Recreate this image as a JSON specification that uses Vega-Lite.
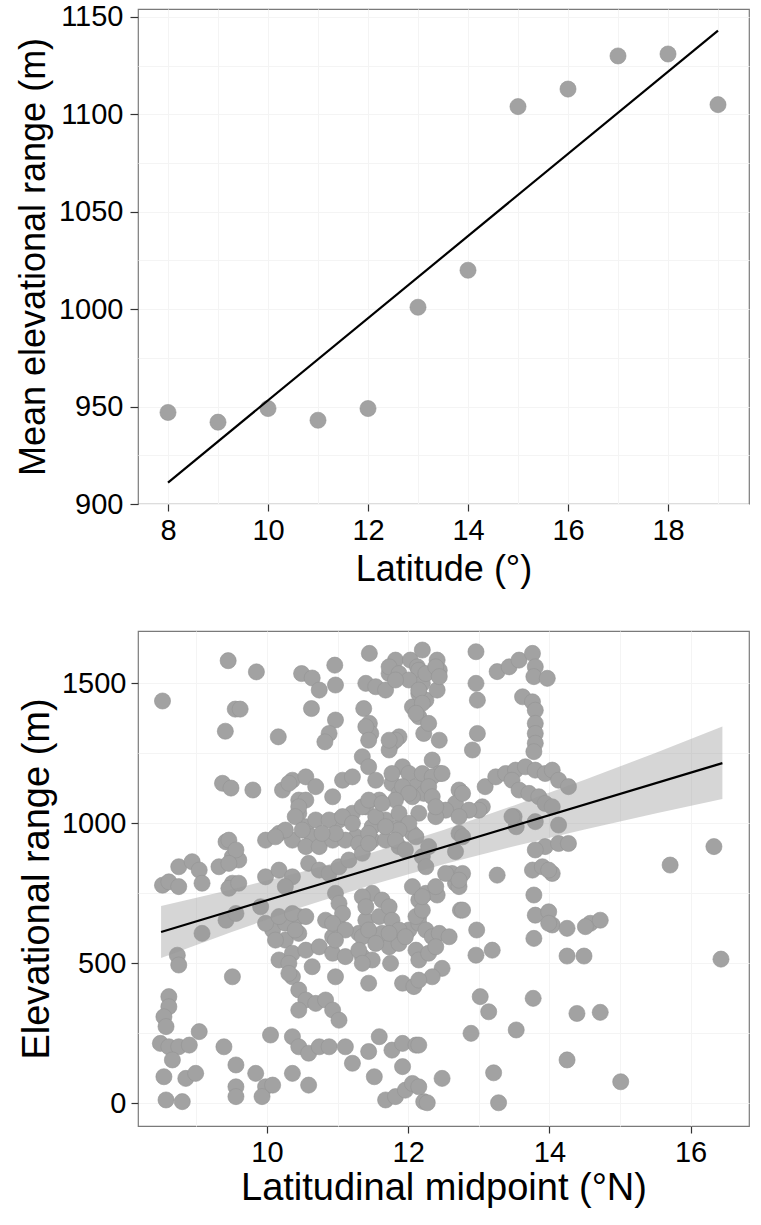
{
 "$schema": "https://vega.github.io/schema/vega-lite/v6.json",
 "padding": {"left": 14, "top": 2, "right": 8, "bottom": 5},
 "background": "white",
 "spacing": 42,
 "config": {
  "font": "Liberation Sans",
  "view": {"stroke": "#7a7a7a", "strokeWidth": 1.2},
  "axis": {"labelColor": "black", "titleColor": "black", "labelFont": "Liberation Sans", "titleFont": "Liberation Sans", "titleFontWeight": "normal", "labelFontSize": 29, "titleFontSize": 36, "tickColor": "#333333", "tickWidth": 1.2, "domain": false, "gridColor": "#f4f4f4", "labelFlush": false, "labelOverlap": false, "format": "d"}
 },
 "datasets": {
  "topPoints": [
   {"lat": 8, "mer": 947}, {"lat": 9, "mer": 942}, {"lat": 10, "mer": 949}, {"lat": 11, "mer": 943},
   {"lat": 12, "mer": 949}, {"lat": 13, "mer": 1001}, {"lat": 14, "mer": 1020}, {"lat": 15, "mer": 1104},
   {"lat": 16, "mer": 1113}, {"lat": 17, "mer": 1130}, {"lat": 18, "mer": 1131}, {"lat": 19, "mer": 1105}
  ],
  "topLine": [{"lat": 8, "mer": 911}, {"lat": 19, "mer": 1143}],
  "bottomBand": [
   {"mid": 8.5, "lo": 518, "hi": 704}, {"mid": 9.5, "lo": 611, "hi": 763}, {"mid": 10.5, "lo": 700, "hi": 826},
   {"mid": 11.5, "lo": 781, "hi": 896}, {"mid": 12.5, "lo": 853, "hi": 975}, {"mid": 13.5, "lo": 917, "hi": 1063},
   {"mid": 14.5, "lo": 977, "hi": 1155}, {"mid": 15.5, "lo": 1034, "hi": 1250}, {"mid": 16.45, "lo": 1086, "hi": 1345}
  ],
  "bottomLine": [{"mid": 8.5, "er": 611}, {"mid": 16.45, "er": 1214}],
  "bottomPoints": [
   {"mid":8.52,"er":1436},{"mid":9.45,"er":1580},{"mid":9.85,"er":1540},{"mid":9.55,"er":1407},{"mid":9.62,"er":1407},
   {"mid":9.41,"er":1328},{"mid":10.16,"er":1308},{"mid":9.37,"er":1142},{"mid":9.49,"er":1125},{"mid":9.80,"er":1118},
   {"mid":10.49,"er":1534},{"mid":10.64,"er":1518},{"mid":10.74,"er":1475},{"mid":10.96,"er":1564},{"mid":10.97,"er":1493},
   {"mid":10.63,"er":1409},{"mid":10.97,"er":1368},{"mid":10.88,"er":1320},{"mid":10.82,"er":1290},{"mid":11.45,"er":1606},
   {"mid":11.40,"er":1499},{"mid":11.54,"er":1487},{"mid":11.73,"er":1534},{"mid":11.82,"er":1582},{"mid":11.68,"er":1475},
   {"mid":12.03,"er":1582},{"mid":12.13,"er":1558},{"mid":11.37,"er":1409},{"mid":11.45,"er":1356},{"mid":11.47,"er":1320},
   {"mid":11.77,"er":1285},{"mid":11.87,"er":1308},{"mid":12.06,"er":1415},{"mid":12.15,"er":1463},{"mid":12.22,"er":1320},
   {"mid":11.35,"er":1237},{"mid":11.44,"er":1201},{"mid":11.54,"er":1153},{"mid":11.92,"er":1201},{"mid":12.01,"er":1177},
   {"mid":12.11,"er":1130},{"mid":12.22,"er":1106},{"mid":10.22,"er":1118},{"mid":10.36,"er":1153},{"mid":10.55,"er":1165},
   {"mid":10.69,"er":1130},{"mid":10.45,"er":1082},{"mid":10.45,"er":1035},{"mid":10.55,"er":987},{"mid":10.64,"er":951},
   {"mid":10.93,"er":1094},{"mid":11.07,"er":1153},{"mid":11.21,"er":1165},{"mid":11.02,"er":1011},{"mid":11.21,"er":1035},
   {"mid":11.40,"er":1058},{"mid":11.59,"er":1082},{"mid":11.26,"er":951},{"mid":11.49,"er":987},{"mid":11.68,"er":1011},
   {"mid":11.87,"er":987},{"mid":12.06,"er":963},{"mid":12.15,"er":1035},{"mid":11.77,"er":1142},{"mid":11.87,"er":1106},
   {"mid":12.06,"er":1094},{"mid":9.98,"er":939},{"mid":10.17,"er":963},{"mid":10.36,"er":939},{"mid":10.55,"er":916},
   {"mid":10.74,"er":916},{"mid":10.93,"er":939},{"mid":11.11,"er":939},{"mid":11.30,"er":927},{"mid":11.49,"er":939},
   {"mid":11.68,"er":939},{"mid":11.87,"er":916},{"mid":9.42,"er":933},{"mid":9.51,"er":880},{"mid":9.32,"er":844},
   {"mid":9.60,"er":868},{"mid":8.75,"er":844},{"mid":8.94,"er":862},{"mid":9.04,"er":832},{"mid":8.52,"er":778},
   {"mid":8.61,"er":790},{"mid":9.08,"er":785},{"mid":9.51,"er":785},{"mid":9.98,"er":808},{"mid":10.17,"er":832},
   {"mid":8.75,"er":773},{"mid":9.46,"er":767},{"mid":9.60,"er":785},{"mid":9.91,"er":701},{"mid":9.42,"er":653},
   {"mid":9.08,"er":606},{"mid":8.73,"er":528},{"mid":8.75,"er":493},{"mid":9.51,"er":451},{"mid":8.61,"er":380},
   {"mid":8.61,"er":344},{"mid":8.54,"er":308},{"mid":8.57,"er":273},{"mid":8.49,"er":213},{"mid":8.61,"er":201},
   {"mid":8.75,"er":201},{"mid":8.90,"er":207},{"mid":9.04,"er":255},{"mid":8.66,"er":154},{"mid":8.54,"er":94},
   {"mid":8.85,"er":88},{"mid":8.99,"er":106},{"mid":8.57,"er":11},{"mid":8.80,"er":5},{"mid":9.39,"er":201},
   {"mid":9.56,"er":136},{"mid":9.56,"er":58},{"mid":9.56,"er":23},{"mid":9.84,"er":106},{"mid":9.98,"er":58},
   {"mid":9.93,"er":23},{"mid":10.08,"er":64},{"mid":10.05,"er":243},{"mid":10.36,"er":237},{"mid":10.45,"er":201},
   {"mid":10.59,"er":178},{"mid":10.74,"er":201},{"mid":10.88,"er":201},{"mid":10.36,"er":106},{"mid":10.59,"er":64},
   {"mid":11.11,"er":201},{"mid":11.21,"er":142},{"mid":11.44,"er":184},{"mid":11.59,"er":237},{"mid":11.52,"er":94},
   {"mid":11.77,"er":189},{"mid":11.92,"er":213},{"mid":12.11,"er":207},{"mid":11.92,"er":130},{"mid":11.68,"er":11},
   {"mid":11.82,"er":23},{"mid":11.96,"er":46},{"mid":12.06,"er":70},{"mid":12.22,"er":5},{"mid":10.08,"er":618},
   {"mid":10.26,"er":642},{"mid":10.45,"er":666},{"mid":10.26,"er":582},{"mid":10.45,"er":606},{"mid":10.17,"er":511},
   {"mid":10.36,"er":535},{"mid":10.55,"er":546},{"mid":10.36,"er":451},{"mid":10.45,"er":404},{"mid":10.55,"er":368},
   {"mid":10.45,"er":332},{"mid":10.69,"er":356},{"mid":10.83,"er":368},{"mid":10.93,"er":332},{"mid":11.02,"er":296},
   {"mid":10.74,"er":558},{"mid":10.93,"er":535},{"mid":11.11,"er":523},{"mid":11.35,"er":523},{"mid":11.49,"er":511},
   {"mid":10.83,"er":653},{"mid":11.02,"er":630},{"mid":10.93,"er":594},{"mid":11.30,"er":606},{"mid":11.40,"er":653},
   {"mid":11.59,"er":666},{"mid":11.63,"er":606},{"mid":11.73,"er":558},{"mid":11.87,"er":570},{"mid":12.01,"er":618},
   {"mid":12.11,"er":546},{"mid":12.15,"er":511},{"mid":11.44,"er":428},{"mid":11.75,"er":499},{"mid":11.92,"er":428},
   {"mid":12.08,"er":416},{"mid":12.15,"er":725},{"mid":12.06,"er":773},{"mid":11.49,"er":749},{"mid":11.63,"er":725},
   {"mid":12.15,"er":666},{"mid":12.25,"er":749},{"mid":12.41,"er":743},{"mid":12.15,"er":642},{"mid":12.25,"er":618},
   {"mid":12.34,"er":594},{"mid":12.44,"er":606},{"mid":12.58,"er":594},{"mid":12.29,"er":535},{"mid":12.39,"er":558},
   {"mid":12.48,"er":481},{"mid":12.34,"er":451},{"mid":12.74,"er":689},{"mid":12.67,"er":785},{"mid":12.97,"er":618},
   {"mid":12.96,"er":528},{"mid":13.19,"er":546},{"mid":13.02,"er":380},{"mid":13.14,"er":326},{"mid":12.89,"er":249},
   {"mid":13.53,"er":261},{"mid":13.21,"er":108},{"mid":13.28,"er":1},{"mid":12.48,"er":88},{"mid":12.27,"er":1},
   {"mid":12.15,"er":207},{"mid":13.78,"er":743},{"mid":13.80,"er":671},{"mid":13.78,"er":588},{"mid":13.99,"er":683},
   {"mid":14.04,"er":636},{"mid":14.25,"er":624},{"mid":14.58,"er":642},{"mid":14.72,"er":653},{"mid":14.51,"er":630},
   {"mid":14.25,"er":525},{"mid":14.49,"er":525},{"mid":13.77,"er":374},{"mid":14.39,"er":320},{"mid":14.72,"er":324},
   {"mid":14.25,"er":154},{"mid":15.01,"er":76},{"mid":16.43,"er":514},{"mid":12.15,"er":439},{"mid":12.15,"er":58},
   {"mid":12.72,"er":773},{"mid":12.96,"er":1612},{"mid":12.41,"er":1582},{"mid":12.44,"er":1546},{"mid":12.20,"er":1618},
   {"mid":12.15,"er":1546},{"mid":12.20,"er":1499},{"mid":12.25,"er":1439},{"mid":12.15,"er":1380},{"mid":12.29,"er":1356},
   {"mid":12.41,"er":1475},{"mid":12.96,"er":1499},{"mid":12.98,"er":1439},{"mid":13.26,"er":1541},{"mid":13.43,"er":1558},
   {"mid":13.57,"er":1582},{"mid":13.76,"er":1606},{"mid":13.80,"er":1558},{"mid":13.78,"er":1523},{"mid":13.97,"er":1517},
   {"mid":13.62,"er":1451},{"mid":13.76,"er":1433},{"mid":13.80,"er":1403},{"mid":13.80,"er":1356},{"mid":13.80,"er":1320},
   {"mid":13.80,"er":1285},{"mid":13.78,"er":1255},{"mid":12.98,"er":1320},{"mid":12.91,"er":1261},{"mid":12.44,"er":1296},
   {"mid":12.34,"er":1225},{"mid":12.44,"er":1177},{"mid":12.72,"er":1118},{"mid":12.67,"er":1070},{"mid":12.53,"er":1046},
   {"mid":12.39,"er":1023},{"mid":13.09,"er":1130},{"mid":13.24,"er":1165},{"mid":13.38,"er":1177},{"mid":13.52,"er":1189},
   {"mid":13.66,"er":1201},{"mid":13.80,"er":1189},{"mid":13.94,"er":1177},{"mid":14.04,"er":1189},{"mid":14.13,"er":1153},
   {"mid":14.27,"er":1130},{"mid":13.05,"er":1058},{"mid":13.00,"er":1046},{"mid":13.47,"er":1153},{"mid":13.57,"er":1118},
   {"mid":13.71,"er":1106},{"mid":13.85,"er":1094},{"mid":13.94,"er":1070},{"mid":14.04,"er":1058},{"mid":13.50,"er":1023},
   {"mid":13.53,"er":987},{"mid":13.80,"er":1005},{"mid":14.13,"er":993},{"mid":12.72,"er":963},{"mid":12.67,"er":898},
   {"mid":13.94,"er":916},{"mid":14.13,"er":927},{"mid":14.27,"er":927},{"mid":14.04,"er":820},{"mid":13.76,"er":832},
   {"mid":13.90,"er":844},{"mid":13.26,"er":814},{"mid":12.62,"er":820},{"mid":12.77,"er":820},{"mid":15.71,"er":850},
   {"mid":16.33,"er":916},{"mid":12.20,"er":880},{"mid":12.25,"er":844},{"mid":12.39,"er":773},{"mid":11.73,"er":1558},
   {"mid":11.87,"er":1534},{"mid":12.01,"er":1511},{"mid":12.15,"er":1475},{"mid":12.25,"er":1534},{"mid":12.39,"er":1558},
   {"mid":12.44,"er":1523},{"mid":12.20,"er":1428},{"mid":12.11,"er":1392},{"mid":11.82,"er":1296},{"mid":11.73,"er":1261},
   {"mid":11.92,"er":1130},{"mid":12.01,"er":1106},{"mid":11.82,"er":1082},{"mid":11.87,"er":1035},{"mid":12.20,"er":1177},
   {"mid":12.34,"er":1165},{"mid":12.48,"er":1177},{"mid":12.29,"er":1130},{"mid":12.34,"er":1094},{"mid":12.39,"er":1058},
   {"mid":12.77,"er":1106},{"mid":12.86,"er":1046},{"mid":12.72,"er":1023},{"mid":12.01,"er":999},{"mid":11.87,"er":975},
   {"mid":13.47,"er":1023},{"mid":11.82,"er":1511},{"mid":11.40,"er":1344},{"mid":11.44,"er":1296},{"mid":11.73,"er":1296},
   {"mid":11.77,"er":1177},{"mid":10.31,"er":1142},{"mid":10.55,"er":1082},{"mid":10.45,"er":1058},{"mid":10.40,"er":1023},
   {"mid":10.50,"er":975},{"mid":10.69,"er":1011},{"mid":10.88,"er":1011},{"mid":11.07,"er":1023},{"mid":11.21,"er":999},
   {"mid":11.35,"er":1058},{"mid":11.44,"er":1082},{"mid":11.54,"er":1023},{"mid":11.63,"er":1070},{"mid":11.68,"er":987},
   {"mid":11.44,"er":963},{"mid":10.97,"er":963},{"mid":10.78,"er":963},{"mid":10.26,"er":975},{"mid":10.12,"er":951},
   {"mid":9.46,"er":939},{"mid":9.56,"er":904},{"mid":9.46,"er":856},{"mid":9.56,"er":677},{"mid":10.36,"er":808},
   {"mid":10.26,"er":773},{"mid":10.59,"er":856},{"mid":10.74,"er":832},{"mid":10.88,"er":820},{"mid":11.02,"er":844},
   {"mid":11.16,"er":868},{"mid":11.35,"er":892},{"mid":11.44,"er":927},{"mid":11.82,"er":939},{"mid":11.96,"er":904},
   {"mid":12.11,"er":951},{"mid":10.97,"er":749},{"mid":11.02,"er":713},{"mid":11.07,"er":677},{"mid":10.93,"er":642},
   {"mid":11.11,"er":618},{"mid":10.97,"er":582},{"mid":11.35,"er":737},{"mid":11.73,"er":701},{"mid":11.77,"er":653},
   {"mid":11.87,"er":618},{"mid":11.96,"er":594},{"mid":11.73,"er":606},{"mid":11.40,"er":701},{"mid":11.35,"er":594},
   {"mid":11.44,"er":618},{"mid":11.30,"er":546},{"mid":9.98,"er":642},{"mid":10.17,"er":666},{"mid":10.36,"er":677},
   {"mid":10.55,"er":666},{"mid":10.40,"er":618},{"mid":10.12,"er":582},{"mid":11.54,"er":570},{"mid":11.35,"er":499},
   {"mid":10.31,"er":499},{"mid":10.31,"er":463},{"mid":12.11,"er":666},{"mid":12.20,"er":689},{"mid":12.20,"er":737},
   {"mid":12.77,"er":689},{"mid":12.53,"er":820},{"mid":12.72,"er":796},{"mid":12.29,"er":916},{"mid":12.77,"er":951},
   {"mid":13.80,"er":904},{"mid":13.99,"er":832},{"mid":13.99,"er":642},{"mid":10.64,"er":487},{"mid":10.97,"er":451}
  ]
 },
 "vconcat": [
  {
   "width": 611,
   "height": 495,
   "layer": [
    {
     "data": {"name": "topPoints"},
     "mark": {"type": "circle", "size": 260, "color": "#a2a2a2", "opacity": 1, "stroke": "#949494", "strokeWidth": 0.6},
     "encoding": {
      "x": {"field": "lat", "type": "quantitative", "scale": {"domain": [7.40, 19.62], "nice": false, "zero": false},
       "axis": {"title": "Latitude (°)", "values": [8,9,10,11,12,13,14,15,16,17,18,19], "labelExpr": "datum.value % 2 === 0 ? datum.label : ''",
        "tickOpacity": {"condition": {"test": "datum.value % 2 !== 0", "value": 0}, "value": 1},
        "tickSize": 7, "labelPadding": 5, "titlePadding": 7, "grid": true}},
      "y": {"field": "mer", "type": "quantitative", "scale": {"domain": [900, 1154.1], "nice": false, "zero": false},
       "axis": {"title": "Mean elevational range (m)", "values": [900,925,950,975,1000,1025,1050,1075,1100,1125,1150], "labelExpr": "datum.value % 50 === 0 ? datum.label : ''",
        "tickOpacity": {"condition": {"test": "datum.value % 50 !== 0", "value": 0}, "value": 1},
        "tickSize": 8, "labelPadding": 7, "titlePadding": 6, "grid": true}}
     }
    },
    {
     "data": {"name": "topLine"},
     "mark": {"type": "line", "color": "black", "strokeWidth": 2.2},
     "encoding": {
      "x": {"field": "lat", "type": "quantitative"},
      "y": {"field": "mer", "type": "quantitative"}
     }
    }
   ]
  },
  {
   "width": 611,
   "height": 495,
   "layer": [
    {
     "data": {"name": "bottomPoints"},
     "mark": {"type": "circle", "size": 260, "color": "#a2a2a2", "opacity": 1, "stroke": "#949494", "strokeWidth": 0.6},
     "encoding": {
      "x": {"field": "mid", "type": "quantitative", "scale": {"domain": [8.173, 16.827], "nice": false, "zero": false},
       "axis": {"title": "Latitudinal midpoint (°N)", "values": [9,10,11,12,13,14,15,16], "labelExpr": "datum.value % 2 === 0 ? datum.label : ''",
        "tickOpacity": {"condition": {"test": "datum.value % 2 !== 0", "value": 0}, "value": 1},
        "tickSize": 7, "labelPadding": 5, "titlePadding": 2, "titleFontSize": 38, "grid": true}},
      "y": {"field": "er", "type": "quantitative", "scale": {"domain": [-82, 1686], "nice": false, "zero": false},
       "axis": {"title": "Elevational range (m)", "values": [0,250,500,750,1000,1250,1500], "labelExpr": "datum.value % 500 === 0 ? datum.label : ''",
        "tickOpacity": {"condition": {"test": "datum.value % 500 !== 0", "value": 0}, "value": 1},
        "tickSize": 7, "labelPadding": 5, "titlePadding": 5, "titleFontSize": 38, "grid": true}}
     }
    },
    {
     "data": {"name": "bottomBand"},
     "mark": {"type": "area", "color": "#999999", "opacity": 0.4},
     "encoding": {
      "x": {"field": "mid", "type": "quantitative"},
      "y": {"field": "lo", "type": "quantitative"},
      "y2": {"field": "hi"}
     }
    },
    {
     "data": {"name": "bottomLine"},
     "mark": {"type": "line", "color": "black", "strokeWidth": 2.2},
     "encoding": {
      "x": {"field": "mid", "type": "quantitative"},
      "y": {"field": "er", "type": "quantitative"}
     }
    }
   ]
  }
 ]
}
